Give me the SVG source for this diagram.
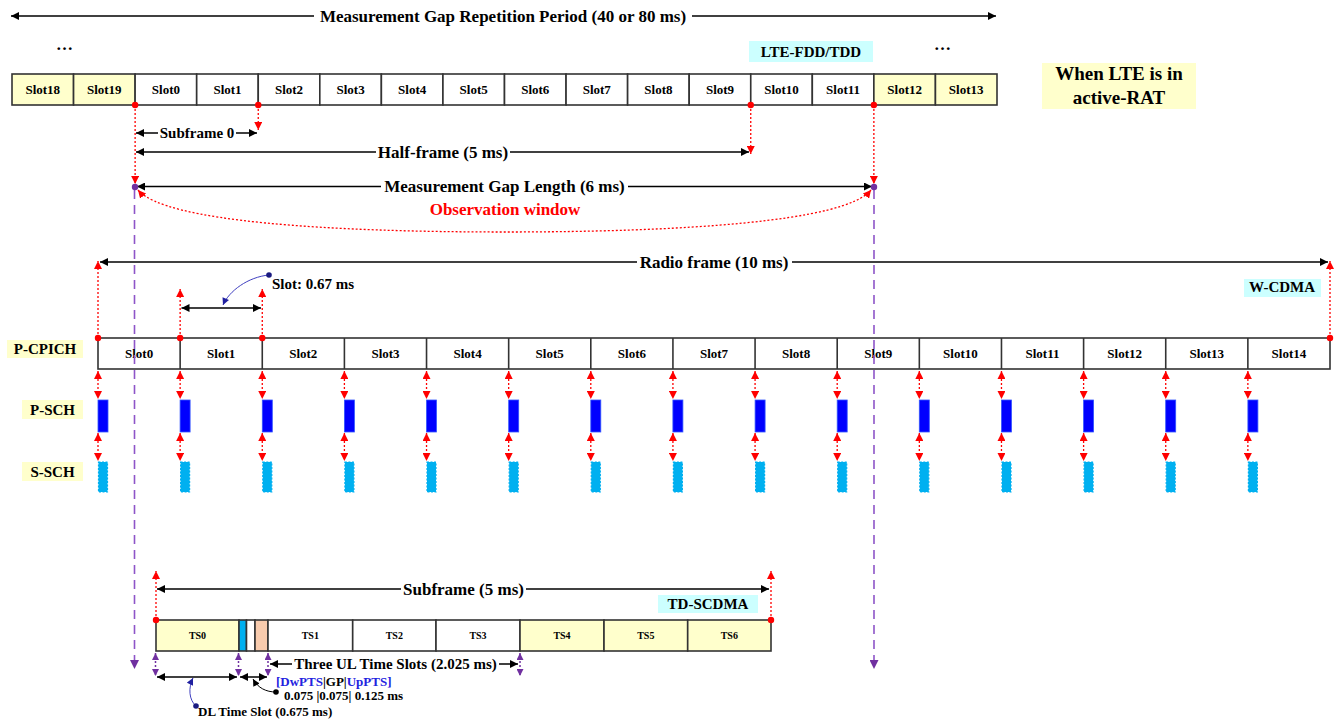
<svg xmlns="http://www.w3.org/2000/svg" width="1343" height="721" viewBox="0 0 1343 721">
<defs>
<style>
text{font-family:"Liberation Serif","Times New Roman",serif;font-weight:bold;fill:#000}
.c{text-anchor:middle}
.cell{stroke:#333;stroke-width:1.6}
.w{fill:#fff}
.y{fill:#FFFFCC}
.s13{font-size:13px}
.s10{font-size:10px}
.s15{font-size:15px}
.s17{font-size:17px}
.blk{stroke:#000;stroke-width:1.5;fill:none;marker-start:url(#ab);marker-end:url(#ab)}
.blk1{stroke:#000;stroke-width:1.5;fill:none;marker-end:url(#ab)}
.rd{stroke:#FF0000;stroke-width:1.3;stroke-dasharray:2 2;fill:none}
.rd1{marker-end:url(#ar)}
.rd2{marker-start:url(#ar);marker-end:url(#ar)}
.pd{stroke:#7030A0;stroke-width:1.5;stroke-dasharray:2 2;fill:none;marker-start:url(#ap2);marker-end:url(#ap2)}
.pdash{stroke:#8E55C8;stroke-width:1.6;stroke-dasharray:9 6;fill:none;marker-end:url(#ap)}
.psch{fill:#0000FF;stroke:#3355FF;stroke-width:0.8}
.ssch{fill:#00B0F0;stroke:#00B0F0;stroke-width:1.2;stroke-dasharray:2 1.5}
.cy{fill:#CCFFFF}
.ly{fill:#FFFFCC}
</style>
<marker id="ab" viewBox="0 0 10 10" refX="10" refY="5" markerWidth="10" markerHeight="8" markerUnits="userSpaceOnUse" orient="auto-start-reverse"><path d="M0,0 L10,5 L0,10 z" fill="#000"/></marker>
<marker id="ar" viewBox="0 0 10 10" refX="10" refY="5" markerWidth="8" markerHeight="8" markerUnits="userSpaceOnUse" orient="auto-start-reverse"><path d="M0,0 L10,5 L0,10 z" fill="#FF0000"/></marker>
<marker id="ap" viewBox="0 0 10 10" refX="10" refY="5" markerWidth="10" markerHeight="9" markerUnits="userSpaceOnUse" orient="auto-start-reverse"><path d="M0,0 L10,5 L0,10 z" fill="#7030A0"/></marker>
<marker id="ap2" viewBox="0 0 10 10" refX="10" refY="5" markerWidth="7" markerHeight="7" markerUnits="userSpaceOnUse" orient="auto-start-reverse"><path d="M0,0 L10,5 L0,10 z" fill="#7030A0"/></marker>
<marker id="abl" viewBox="0 0 10 10" refX="10" refY="5" markerWidth="8" markerHeight="7" markerUnits="userSpaceOnUse" orient="auto-start-reverse"><path d="M0,0 L10,5 L0,10 z" fill="#2020A0"/></marker>
<marker id="abk" viewBox="0 0 10 10" refX="10" refY="5" markerWidth="8" markerHeight="7" markerUnits="userSpaceOnUse" orient="auto-start-reverse"><path d="M0,0 L10,5 L0,10 z" fill="#000"/></marker>
</defs>
<rect width="1343" height="721" fill="#fff"/>

<!-- Labels -->
<g id="top-dots">
<text x="65" y="50" class="c s17" letter-spacing="1">…</text>
<text x="943" y="50" class="c s17" letter-spacing="1">…</text>
</g>
<g id="lte-label"><rect x="749" y="41" width="124" height="21" class="cy"/><text x="811" y="57" class="c s15">LTE-FDD/TDD</text></g>
<g id="active-rat"><rect x="1042" y="63" width="154" height="46" class="ly"/><text x="1119" y="80" class="c" font-size="19">When LTE is in</text><text x="1119" y="104" class="c" font-size="19">active-RAT</text></g>
<g id="wcdma-label"><rect x="1244" y="279" width="77" height="18" class="cy"/><text x="1282" y="292" class="c s15">W-CDMA</text></g>
<g id="tdscdma-label"><rect x="658" y="595" width="100" height="18" class="cy"/><text x="708" y="609" class="c s15">TD-SCDMA</text></g>
<g id="pcpich-label"><rect x="7" y="340" width="76" height="18" class="ly"/><text x="45" y="354" class="c s15">P-CPICH</text></g>
<g id="psch-label"><rect x="22" y="400" width="61" height="19" class="ly"/><text x="52.5" y="415" class="c s15">P-SCH</text></g>
<g id="ssch-label"><rect x="22" y="462" width="61" height="19" class="ly"/><text x="52.5" y="477" class="c s15">S-SCH</text></g>

<!-- LTE row -->
<g id="lte-row">
<rect x="12" y="74" width="61.56" height="31" class="cell y"/>
<rect x="73.56" y="74" width="61.56" height="31" class="cell y"/>
<rect x="135.12" y="74" width="61.56" height="31" class="cell w"/>
<rect x="196.69" y="74" width="61.56" height="31" class="cell w"/>
<rect x="258.25" y="74" width="61.56" height="31" class="cell w"/>
<rect x="319.81" y="74" width="61.56" height="31" class="cell w"/>
<rect x="381.37" y="74" width="61.56" height="31" class="cell w"/>
<rect x="442.94" y="74" width="61.56" height="31" class="cell w"/>
<rect x="504.5" y="74" width="61.56" height="31" class="cell w"/>
<rect x="566.06" y="74" width="61.56" height="31" class="cell w"/>
<rect x="627.62" y="74" width="61.56" height="31" class="cell w"/>
<rect x="689.19" y="74" width="61.56" height="31" class="cell w"/>
<rect x="750.75" y="74" width="61.56" height="31" class="cell w"/>
<rect x="812.31" y="74" width="61.56" height="31" class="cell w"/>
<rect x="873.87" y="74" width="61.56" height="31" class="cell y"/>
<rect x="935.44" y="74" width="61.56" height="31" class="cell y"/>
<g class="s13">
<text x="42.8" y="94" class="c">Slot18</text>
<text x="104.3" y="94" class="c">Slot19</text>
<text x="165.9" y="94" class="c">Slot0</text>
<text x="227.5" y="94" class="c">Slot1</text>
<text x="289" y="94" class="c">Slot2</text>
<text x="350.6" y="94" class="c">Slot3</text>
<text x="412.2" y="94" class="c">Slot4</text>
<text x="473.7" y="94" class="c">Slot5</text>
<text x="535.3" y="94" class="c">Slot6</text>
<text x="596.8" y="94" class="c">Slot7</text>
<text x="658.4" y="94" class="c">Slot8</text>
<text x="720" y="94" class="c">Slot9</text>
<text x="781.5" y="94" class="c">Slot10</text>
<text x="843.1" y="94" class="c">Slot11</text>
<text x="904.7" y="94" class="c">Slot12</text>
<text x="966.2" y="94" class="c">Slot13</text>
</g>
</g>

<!-- W-CDMA row -->
<g id="wcdma-row">
<rect x="98" y="338" width="1232" height="31" class="cell w"/>
<g class="cell">
<line x1="180.13" y1="338" x2="180.13" y2="369"/><line x1="262.27" y1="338" x2="262.27" y2="369"/><line x1="344.4" y1="338" x2="344.4" y2="369"/><line x1="426.53" y1="338" x2="426.53" y2="369"/><line x1="508.67" y1="338" x2="508.67" y2="369"/><line x1="590.8" y1="338" x2="590.8" y2="369"/><line x1="672.93" y1="338" x2="672.93" y2="369"/><line x1="755.07" y1="338" x2="755.07" y2="369"/><line x1="837.2" y1="338" x2="837.2" y2="369"/><line x1="919.33" y1="338" x2="919.33" y2="369"/><line x1="1001.47" y1="338" x2="1001.47" y2="369"/><line x1="1083.6" y1="338" x2="1083.6" y2="369"/><line x1="1165.73" y1="338" x2="1165.73" y2="369"/><line x1="1247.87" y1="338" x2="1247.87" y2="369"/>
</g>
<g class="s13">
<text x="139.1" y="358" class="c">Slot0</text>
<text x="221.2" y="358" class="c">Slot1</text>
<text x="303.3" y="358" class="c">Slot2</text>
<text x="385.5" y="358" class="c">Slot3</text>
<text x="467.6" y="358" class="c">Slot4</text>
<text x="549.7" y="358" class="c">Slot5</text>
<text x="631.9" y="358" class="c">Slot6</text>
<text x="714" y="358" class="c">Slot7</text>
<text x="796.1" y="358" class="c">Slot8</text>
<text x="878.3" y="358" class="c">Slot9</text>
<text x="960.4" y="358" class="c">Slot10</text>
<text x="1042.5" y="358" class="c">Slot11</text>
<text x="1124.7" y="358" class="c">Slot12</text>
<text x="1206.8" y="358" class="c">Slot13</text>
<text x="1288.9" y="358" class="c">Slot14</text>
</g>
</g>

<g id="psch-blocks">
<rect x="98" y="400" width="10" height="32" class="psch"/><rect x="180.1" y="400" width="10" height="32" class="psch"/><rect x="262.3" y="400" width="10" height="32" class="psch"/><rect x="344.4" y="400" width="10" height="32" class="psch"/><rect x="426.5" y="400" width="10" height="32" class="psch"/><rect x="508.7" y="400" width="10" height="32" class="psch"/><rect x="590.8" y="400" width="10" height="32" class="psch"/><rect x="672.9" y="400" width="10" height="32" class="psch"/><rect x="755.1" y="400" width="10" height="32" class="psch"/><rect x="837.2" y="400" width="10" height="32" class="psch"/><rect x="919.3" y="400" width="10" height="32" class="psch"/><rect x="1001.5" y="400" width="10" height="32" class="psch"/><rect x="1083.6" y="400" width="10" height="32" class="psch"/><rect x="1165.7" y="400" width="10" height="32" class="psch"/><rect x="1247.9" y="400" width="10" height="32" class="psch"/>
</g>
<g id="ssch-blocks">
<rect x="98.5" y="462" width="9" height="30" class="ssch"/><rect x="180.6" y="462" width="9" height="30" class="ssch"/><rect x="262.8" y="462" width="9" height="30" class="ssch"/><rect x="344.9" y="462" width="9" height="30" class="ssch"/><rect x="427" y="462" width="9" height="30" class="ssch"/><rect x="509.2" y="462" width="9" height="30" class="ssch"/><rect x="591.3" y="462" width="9" height="30" class="ssch"/><rect x="673.4" y="462" width="9" height="30" class="ssch"/><rect x="755.6" y="462" width="9" height="30" class="ssch"/><rect x="837.7" y="462" width="9" height="30" class="ssch"/><rect x="919.8" y="462" width="9" height="30" class="ssch"/><rect x="1002" y="462" width="9" height="30" class="ssch"/><rect x="1084.1" y="462" width="9" height="30" class="ssch"/><rect x="1166.2" y="462" width="9" height="30" class="ssch"/><rect x="1248.4" y="462" width="9" height="30" class="ssch"/>
</g>

<!-- TD-SCDMA row -->
<g id="td-row">
<rect x="156" y="620" width="83" height="31" class="cell y"/>
<rect x="239" y="620" width="7.5" height="31" fill="#00B0F0" class="cell"/>
<rect x="246.5" y="620" width="8.5" height="31" class="cell w"/>
<rect x="255" y="620" width="13" height="31" fill="#F8CBAD" class="cell"/>
<rect x="268" y="620" width="84.7" height="31" class="cell w"/>
<rect x="352.7" y="620" width="83.3" height="31" class="cell w"/>
<rect x="436" y="620" width="84" height="31" class="cell w"/>
<rect x="520" y="620" width="84" height="31" class="cell y"/>
<rect x="604" y="620" width="83.7" height="31" class="cell y"/>
<rect x="687.7" y="620" width="83.3" height="31" class="cell y"/>
<g class="s10">
<text x="197.5" y="639" class="c">TS0</text>
<text x="310.3" y="639" class="c">TS1</text>
<text x="394.3" y="639" class="c">TS2</text>
<text x="478" y="639" class="c">TS3</text>
<text x="562" y="639" class="c">TS4</text>
<text x="645.8" y="639" class="c">TS5</text>
<text x="729.3" y="639" class="c">TS6</text>
</g>
</g>

<!-- Connectors -->
<g id="connectors">
<line x1="314" y1="16" x2="11" y2="16" class="blk1"/>
<line x1="692" y1="16" x2="996" y2="16" class="blk1"/>
<text x="503" y="22" class="c s17">Measurement Gap Repetition Period (40 or 80 ms)</text>

<line x1="135.12" y1="105" x2="135.12" y2="184" class="rd rd1"/>
<line x1="258.25" y1="105" x2="258.25" y2="130" class="rd rd1"/>
<line x1="750.75" y1="105" x2="750.75" y2="154" class="rd rd1"/>
<line x1="873.87" y1="105" x2="873.87" y2="184" class="rd rd1"/>
<g fill="#FF0000"><circle cx="135.12" cy="105" r="3.2"/><circle cx="258.25" cy="105" r="3.2"/><circle cx="750.75" cy="105" r="3.2"/><circle cx="873.87" cy="105" r="3.2"/></g>

<line x1="158" y1="133" x2="136" y2="133" class="blk1"/>
<line x1="236" y1="133" x2="257" y2="133" class="blk1"/>
<text x="197" y="138" class="c s15">Subframe 0</text>

<line x1="376" y1="152" x2="136" y2="152" class="blk1"/>
<line x1="510" y1="152" x2="749" y2="152" class="blk1"/>
<text x="443" y="158" class="c s17">Half-frame (5 ms)</text>

<line x1="381" y1="186.5" x2="137" y2="186.5" class="blk1"/>
<line x1="628" y1="186.5" x2="872" y2="186.5" class="blk1"/>
<text x="504.5" y="192" class="c s17">Measurement Gap Length (6 ms)</text>

<path d="M138,190 C165,222 330,232 505,232 C680,232 845,222 871,190" class="rd rd2"/>
<text x="505" y="215" class="c s17" style="fill:#FF0000">Observation window</text>

<line x1="134.5" y1="190" x2="134.5" y2="669" class="pdash"/>
<line x1="874" y1="190" x2="874" y2="669" class="pdash"/>
<g fill="#7030A0"><circle cx="135" cy="187" r="3.2"/><circle cx="874" cy="187" r="3.2"/></g>

<line x1="98" y1="338" x2="98" y2="261" class="rd rd1"/>
<line x1="1330" y1="338" x2="1330" y2="261" class="rd rd1"/>
<line x1="180.13" y1="338" x2="180.13" y2="289" class="rd rd1"/>
<line x1="262.27" y1="338" x2="262.27" y2="289" class="rd rd1"/>
<g fill="#FF0000"><circle cx="98" cy="338" r="3.2"/><circle cx="180.13" cy="338" r="3.2"/><circle cx="262.27" cy="338" r="3.2"/><circle cx="1330" cy="338" r="3.2"/></g>

<line x1="637" y1="262" x2="100" y2="262" class="blk1"/>
<line x1="792" y1="262" x2="1328" y2="262" class="blk1"/>
<text x="714" y="268" class="c s17">Radio frame (10 ms)</text>

<line x1="181.5" y1="308" x2="261" y2="308" class="blk"/>
<path d="M269,275 C248,277 229,291 223,305" stroke="#4040C0" stroke-width="1" fill="none" marker-end="url(#abl)"/>
<circle cx="269" cy="275" r="2.8" fill="#1A1A80"/>
<text x="272" y="289" class="s15">Slot: 0.67 ms</text>

<g class="rd rd2">
<line x1="98" y1="371" x2="98" y2="399"/><line x1="180.13" y1="371" x2="180.13" y2="399"/><line x1="262.27" y1="371" x2="262.27" y2="399"/><line x1="344.4" y1="371" x2="344.4" y2="399"/><line x1="426.53" y1="371" x2="426.53" y2="399"/><line x1="508.67" y1="371" x2="508.67" y2="399"/><line x1="590.8" y1="371" x2="590.8" y2="399"/><line x1="672.93" y1="371" x2="672.93" y2="399"/><line x1="755.07" y1="371" x2="755.07" y2="399"/><line x1="837.2" y1="371" x2="837.2" y2="399"/><line x1="919.33" y1="371" x2="919.33" y2="399"/><line x1="1001.47" y1="371" x2="1001.47" y2="399"/><line x1="1083.6" y1="371" x2="1083.6" y2="399"/><line x1="1165.73" y1="371" x2="1165.73" y2="399"/><line x1="1247.87" y1="371" x2="1247.87" y2="399"/>
<line x1="98" y1="433" x2="98" y2="461"/><line x1="180.13" y1="433" x2="180.13" y2="461"/><line x1="262.27" y1="433" x2="262.27" y2="461"/><line x1="344.4" y1="433" x2="344.4" y2="461"/><line x1="426.53" y1="433" x2="426.53" y2="461"/><line x1="508.67" y1="433" x2="508.67" y2="461"/><line x1="590.8" y1="433" x2="590.8" y2="461"/><line x1="672.93" y1="433" x2="672.93" y2="461"/><line x1="755.07" y1="433" x2="755.07" y2="461"/><line x1="837.2" y1="433" x2="837.2" y2="461"/><line x1="919.33" y1="433" x2="919.33" y2="461"/><line x1="1001.47" y1="433" x2="1001.47" y2="461"/><line x1="1083.6" y1="433" x2="1083.6" y2="461"/><line x1="1165.73" y1="433" x2="1165.73" y2="461"/><line x1="1247.87" y1="433" x2="1247.87" y2="461"/>
</g>

<line x1="156" y1="620" x2="156" y2="571" class="rd rd1"/>
<line x1="771" y1="620" x2="771" y2="571" class="rd rd1"/>
<g fill="#FF0000"><circle cx="156" cy="620" r="3.2"/><circle cx="771" cy="620" r="3.2"/></g>

<line x1="401" y1="589" x2="157" y2="589" class="blk1"/>
<line x1="526" y1="589" x2="769" y2="589" class="blk1"/>
<text x="463.5" y="595" class="c s17">Subframe (5 ms)</text>

<line x1="155.5" y1="653" x2="155.5" y2="676" class="pd"/>
<line x1="238.5" y1="653" x2="238.5" y2="676" class="pd"/>
<line x1="268" y1="653" x2="268" y2="676" class="pd"/>
<line x1="520" y1="653" x2="520" y2="676" class="pd"/>

<line x1="292" y1="664" x2="270" y2="664" class="blk1"/>
<line x1="499" y1="664" x2="518" y2="664" class="blk1"/>
<text x="395.5" y="669" class="c s15">Three UL Time Slots (2.025 ms)</text>

<line x1="157" y1="677" x2="237" y2="677" class="blk"/>
<line x1="240" y1="677" x2="267" y2="677" class="blk"/>

<path d="M196,706 C189,700 188,688 193,678" stroke="#4040C0" stroke-width="1" fill="none" marker-end="url(#abl)"/>
<circle cx="196" cy="706" r="2.8" fill="#1A1A80"/>
<text x="198" y="716" class="s13">DL Time Slot (0.675 ms)</text>

<path d="M276,692 C266,692 258,688 253,679" stroke="#000" stroke-width="1" fill="none" marker-end="url(#abk)"/>
<circle cx="276" cy="692" r="2.8" fill="#000"/>
<text x="276" y="686" class="s13"><tspan style="fill:#2323E0">[DwPTS</tspan>|GP|<tspan style="fill:#2323E0">UpPTS]</tspan></text>
<text x="284" y="700" class="s13">0.075 |0.075| 0.125 ms</text>
</g>
</svg>
